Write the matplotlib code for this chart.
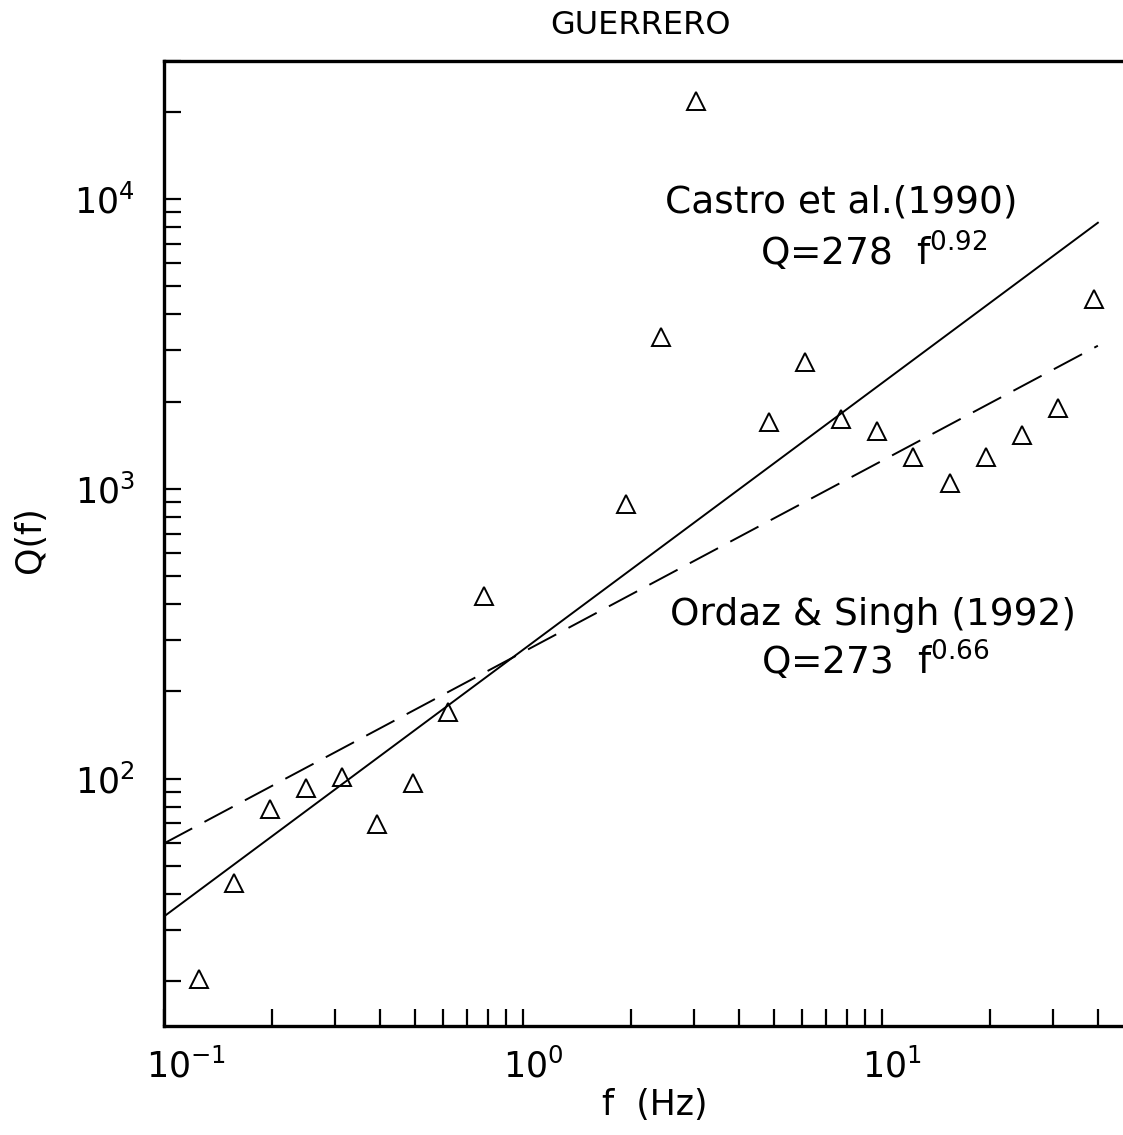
import matplotlib

matplotlib.use("Agg")
import matplotlib.pyplot as plt  # noqa: E402
import numpy as np  # noqa: E402
from matplotlib.ticker import LogLocator, NullFormatter  # noqa: E402
from matplotlib.transforms import ScaledTranslation  # noqa: E402

plt.rcParams["font.family"] = ["DejaVu Sans"]
plt.rcParams["mathtext.fontset"] = "dejavusans"
plt.rcParams["lines.scale_dashes"] = False

freq = [0.125, 0.157, 0.198, 0.249, 0.314, 0.393, 0.495, 0.62, 0.78,
        1.94, 2.42, 3.03, 4.84, 6.1, 7.69, 9.69, 12.2, 15.5, 19.5,
        24.6, 31.0, 39.0]
q_obs = [20.3, 43.5, 78.3, 92.6, 101, 69.5, 96.3, 170, 425,
         889, 3350, 21800, 1706, 2730, 1734, 1577, 1291, 1043, 1291,
         1528, 1893, 4500]

# published relations Q = q0 * f^n, drawn over 0.1 - 40 Hz
line_f = [0.1, 40.0]
castro_q0, castro_n = 278, 0.92
ordaz_q0, ordaz_n = 273, 0.66

fig = plt.figure(figsize=(11.23, 11.35), dpi=100)
ax = fig.add_axes([164 / 1123, 1 - 1026 / 1135, 959 / 1123, (1026 - 60.7) / 1135])

ff = np.array(line_f)
ax.plot(ff, castro_q0 * ff ** castro_n, color="black", lw=1.4)
ax.plot(ff, ordaz_q0 * ff ** ordaz_n, color="black", lw=1.4, dashes=(23, 10))
ax.plot(freq, q_obs, ls="none", marker="^", ms=12.5, mfc="none",
        mec="black", mew=1.4)

ax.set_xscale("log")
ax.set_yscale("log")
ax.set_xlim(0.1, 47)
ax.set_ylim(14, 30000)

for axis in (ax.xaxis, ax.yaxis):
    axis.set_minor_locator(LogLocator(base=10, subs=np.arange(2, 10)))
    axis.set_minor_formatter(NullFormatter())
ax.tick_params(which="both", direction="in", length=12, width=1.6,
               top=False, right=False, labelsize=25, colors="black")
ax.tick_params(axis="x", pad=16)
ax.tick_params(axis="y", pad=21)

ax.spines["right"].set_visible(False)
for s in ("left", "bottom", "top"):
    ax.spines[s].set_linewidth(2.4)

# the "10" of each x label sits centred on its tick, exponent hangs right
fig.canvas.draw()
shift_px = {0.1: 22, 1.0: 10, 10.0: 10}
for val, lab in zip(ax.get_xticks(), ax.get_xticklabels()):
    dx = shift_px.get(round(val, 3), 0)
    lab.set_transform(lab.get_transform()
                      + ScaledTranslation(dx / 100, 0, fig.dpi_scale_trans))

txt = dict(transform=ax.transAxes, ha="center", va="baseline", fontsize=27)
ax.text(0.7065, 0.843, "Castro et al.(1990)", **txt)
ax.text(0.740, 0.788, "Q=278  f$^{0.92}$", **txt)
ax.text(0.739, 0.4154, "Ordaz & Singh (1992)", **txt)
ax.text(0.7414, 0.3636, "Q=273  f$^{0.66}$", **txt)

fig.text(640 / 1123, 1 - 25 / 1135, "GUERRERO", ha="center", va="center",
         fontsize=23)
fig.text(655 / 1123, 1 - 1105 / 1135, "f  (Hz)", ha="center", va="center",
         fontsize=25)
fig.text(30 / 1123, 1 - 540 / 1135, "Q(f)", ha="center", va="center",
         rotation=90, fontsize=25)

fig.savefig("out.png", dpi=100)
plt.close(fig)
